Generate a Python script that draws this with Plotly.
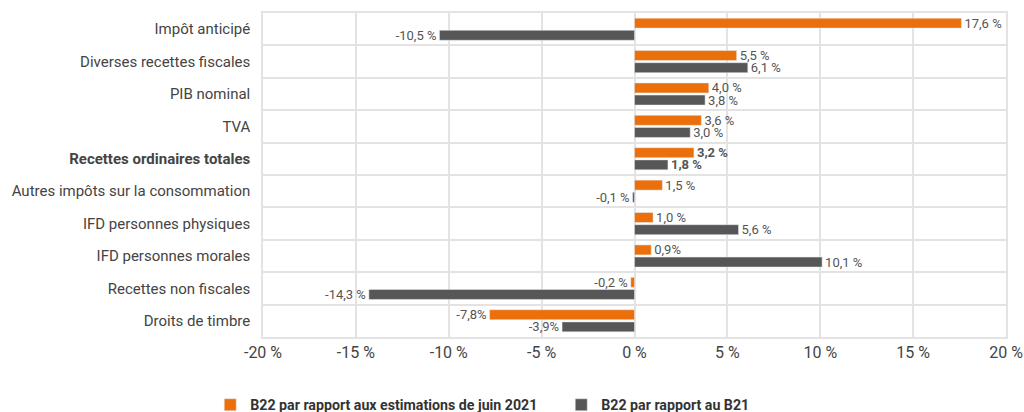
"""Budget 2022: variation des recettes, bar chart."""

import plotly.graph_objects as go

categories = [
    "Impôt anticipé",
    "Diverses recettes fiscales",
    "PIB nominal",
    "TVA",
    "<b>Recettes ordinaires totales</b>",
    "Autres impôts sur la consommation",
    "IFD personnes physiques",
    "IFD personnes morales",
    "Recettes non fiscales",
    "Droits de timbre",
]

vs_estimations = [17.6, 5.5, 4.0, 3.6, 3.2, 1.5, 1.0, 0.9, -0.2, -7.8]
vs_b21 = [-10.5, 6.1, 3.8, 3.0, 1.8, -0.1, 5.6, 10.1, -14.3, -3.9]

labels_estimations = [
    "17,6 %", "5,5 %", "4,0 %", "3,6 %", "<b>3,2 %</b>",
    "1,5 %", "1,0 %", "0,9%", "-0,2 %", "-7,8%",
]
labels_b21 = [
    "-10,5 %", "6,1 %", "3,8 %", "3,0 %", "<b>1,8 %</b>",
    "-0,1 %", "5,6 %", "10,1 %", "-14,3 %", "-3,9%",
]

x_ticks = [-20, -15, -10, -5, 0, 5, 10, 15, 20]
x_tick_labels = [f"{v} %" for v in x_ticks]

ORANGE = "#EB6F0B"
GREY = "#575757"
FONT = "Roboto"

fig = go.Figure()
fig.add_trace(
    go.Bar(
        y=categories,
        x=vs_estimations,
        orientation="h",
        name="<b>B22 par rapport aux estimations de juin 2021</b>",
        marker=dict(color=ORANGE),
        text=labels_estimations,
        textposition="outside",
        constraintext="none",
        cliponaxis=False,
        textfont=dict(color="#555555", size=13, family=FONT),
    )
)
fig.add_trace(
    go.Bar(
        y=categories,
        x=vs_b21,
        orientation="h",
        name="<b>B22 par rapport au B21</b>",
        marker=dict(color=GREY),
        text=labels_b21,
        textposition="outside",
        constraintext="none",
        cliponaxis=False,
        textfont=dict(color="#555555", size=13, family=FONT),
    )
)

fig.update_layout(
    width=1024,
    height=412,
    barmode="group",
    bargap=0.25,
    bargroupgap=0.18,
    plot_bgcolor="white",
    paper_bgcolor="white",
    font=dict(family=FONT, color="#444444", size=15),
    margin=dict(l=263, r=18, t=13, b=75, autoexpand=False),
    legend=dict(
        orientation="h",
        x=-0.071,
        xanchor="left",
        y=-0.21,
        yanchor="middle",
        font=dict(size=14.2, color="#333333", family=FONT),
        traceorder="normal",
        entrywidth=306,
    ),
)
fig.update_xaxes(
    range=[-20, 20],
    tickvals=x_ticks,
    ticktext=x_tick_labels,
    showgrid=True,
    gridcolor="#E3E3E3",
    gridwidth=1.5,
    zeroline=False,
    showline=True,
    linecolor="#E3E3E3",
    linewidth=1.5,
    mirror=True,
    ticks="",
    tickfont=dict(size=16, color="#444444"),
)
fig.update_yaxes(
    type="category",
    autorange="reversed",
    tickson="boundaries",
    showgrid=True,
    gridcolor="#E3E3E3",
    gridwidth=1.5,
    showline=True,
    linecolor="#E3E3E3",
    linewidth=1.5,
    mirror=True,
    ticks="",
    ticklen=0,
    ticklabelstandoff=8,
    tickfont=dict(size=15, color="#444444"),
)

# drop the default page margin so the figure fills the window exactly
fig.write_html(
    "out.html",
    config={"displayModeBar": False},
    post_script="document.body.style.margin='0';document.body.style.overflow='hidden';",
)
